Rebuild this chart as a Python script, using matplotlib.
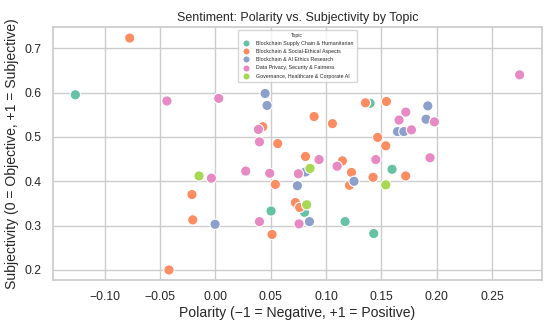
import numpy as np
import pandas as pd
import matplotlib
matplotlib.use("Agg")
import matplotlib.pyplot as plt
import seaborn as sns

topics = [
    "Blockchain Supply Chain & Humanitarian",
    "Blockchain & Social-Ethical Aspects",
    "Blockchain & AI Ethics Research",
    "Data Privacy, Security & Fairness",
    "Governance, Healthcare & Corporate AI",
]

supply_pol = [-0.1266, 0.0503, 0.1398, 0.1597, 0.0805, 0.1172, 0.1431]
supply_subj = [0.595, 0.333, 0.576, 0.427, 0.330, 0.309, 0.282]

social_pol = [-0.0775, 0.0428, 0.0563, 0.0542, -0.0212, -0.0205, 0.0512, -0.042,
              0.1356, 0.1546, 0.0892, 0.1058, 0.1467, 0.154, 0.0814, 0.1148,
              0.123, 0.1425, 0.172, 0.1212, 0.0723, 0.0762]
social_subj = [0.723, 0.523, 0.485, 0.393, 0.370, 0.313, 0.280, 0.200,
               0.577, 0.580, 0.546, 0.530, 0.499, 0.480, 0.456, 0.446,
               0.420, 0.409, 0.412, 0.391, 0.352, 0.341]

aieth_pol = [0.0449, 0.0467, -0.0003, 0.192, 0.1904, 0.1646, 0.1703, 0.0814,
             0.1253, 0.0741, 0.085]
aieth_subj = [0.598, 0.571, 0.303, 0.570, 0.540, 0.512, 0.512, 0.421,
              0.400, 0.390, 0.309]

privacy_pol = [-0.0438, 0.003, 0.0389, 0.0398, 0.0274, 0.0491, -0.0036, 0.0398,
               0.1721, 0.166, 0.198, 0.1772, 0.0937, 0.145, 0.194, 0.11,
               0.075, 0.0756, 0.275]
privacy_subj = [0.581, 0.587, 0.517, 0.489, 0.423, 0.418, 0.407, 0.309,
                0.556, 0.538, 0.534, 0.516, 0.449, 0.449, 0.453, 0.434,
                0.417, 0.304, 0.640]

gov_pol = [-0.0148, 0.0855, 0.154, 0.0825]
gov_subj = [0.412, 0.429, 0.392, 0.347]

rows = []
for t, xs, ys in zip(topics,
                     [supply_pol, social_pol, aieth_pol, privacy_pol, gov_pol],
                     [supply_subj, social_subj, aieth_subj, privacy_subj, gov_subj]):
    for x, y in zip(xs, ys):
        rows.append({"Polarity": x, "Subjectivity": y, "Topic": t})
df = pd.DataFrame(rows)

sns.set_theme(style="whitegrid")
plt.rcParams['font.family'] = ['Liberation Sans', 'DejaVu Sans']

fig, ax = plt.subplots(figsize=(5.5, 3.25), dpi=100)
sns.scatterplot(data=df, x="Polarity", y="Subjectivity", hue="Topic",
                hue_order=topics, palette="Set2", s=55, edgecolor="white",
                linewidth=0.8, ax=ax)

ax.set_xlim(-0.147, 0.295)
ax.set_ylim(0.177, 0.748)
ax.set_title("Sentiment: Polarity vs. Subjectivity by Topic", fontsize=9, pad=4)
ax.set_xlabel("Polarity (\u22121 = Negative, +1 = Positive)", fontsize=10.1, labelpad=2)
ax.set_ylabel("Subjectivity (0 = Objective, +1 = Subjective)", fontsize=10.1, labelpad=4)
ax.tick_params(labelsize=8.7, pad=2)

# legend is tiny in the original
leg = ax.legend(title="Topic", loc="upper center", fontsize=3.8, title_fontsize=3.6,
                markerscale=0.7, frameon=True, labelspacing=0.6, borderpad=0.6)

fig.subplots_adjust(left=0.096, right=0.985, bottom=0.138, top=0.917)
fig.savefig("out.png", dpi=100)
